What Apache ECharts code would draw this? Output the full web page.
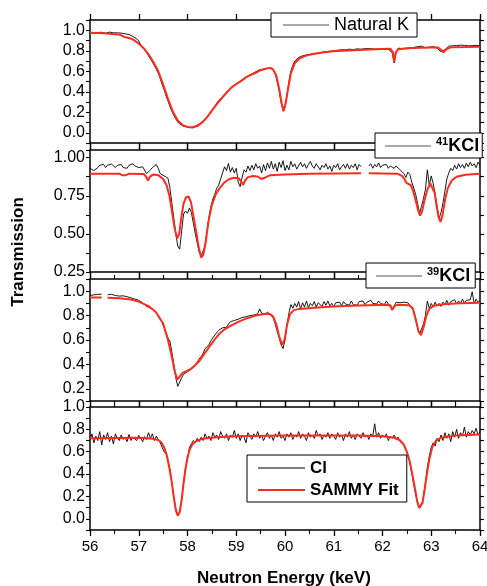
<!DOCTYPE html>
<html>
<head>
<meta charset="utf-8">
<script src="https://cdn.jsdelivr.net/npm/echarts@6/dist/echarts.min.js"></script>
<style>
  html, body { margin: 0; padding: 0; background: #fff; }
  #chart { width: 487px; height: 586px; }
</style>
</head>
<body>
<div id="chart"></div>
<script>
// measured transmission, one value every 0.04 keV from 56 keV (null = no data)
const E_START = 56;
const E_STEP = 0.04;

const naturalK = [
  0.975, 0.98, 0.975, 0.985, 0.978, 0.972, 0.98, 0.975, 0.97, 0.978, 0.982, 0.972, 0.975, 0.968, 0.975, 0.965, 0.972, 0.962, 0.965, 0.955, 0.958, 0.945, 0.94, 0.925, 0.915,
  0.895, 0.86, 0.84, 0.815, 0.785, 0.75, 0.72, 0.69, 0.655, 0.62, 0.58, 0.53, 0.47, 0.42, 0.36, 0.31, 0.255, 0.21, 0.17, 0.135, 0.105, 0.085, 0.07, 0.062, 0.056,
  0.055, 0.05, 0.053, 0.058, 0.065, 0.072, 0.085, 0.095, 0.115, 0.13, 0.155, 0.175, 0.2, 0.23, 0.255, 0.29, 0.3, 0.335, 0.35, 0.375, 0.39, 0.415, 0.43, 0.45, 0.465,
  0.478, 0.49, 0.505, 0.515, 0.53, 0.54, 0.555, 0.57, 0.575, 0.59, 0.595, 0.608, 0.615, 0.625, 0.62, 0.635, 0.628, 0.64, 0.632, 0.61, 0.57, 0.5, 0.41, 0.3, 0.215,
  0.25, 0.36, 0.5, 0.6, 0.66, 0.7, 0.715, 0.735, 0.73, 0.75, 0.742, 0.76, 0.75, 0.765, 0.758, 0.772, 0.765, 0.775, 0.76, 0.785, 0.775, 0.79, 0.78, 0.795, 0.785,
  0.8, 0.79, 0.805, 0.795, 0.81, 0.8, 0.808, 0.798, 0.815, 0.805, 0.812, 0.8, 0.818, 0.81, 0.815, 0.805, 0.82, 0.81, 0.822, 0.812, 0.818, 0.828, 0.815, 0.825, 0.818,
  0.83, 0.82, 0.825, 0.815, 0.822, 0.78, 0.68, 0.79, 0.825, 0.835, 0.822, 0.838, 0.825, 0.84, 0.828, 0.845, 0.832, 0.825, 0.84, 0.83, 0.845, 0.835, 0.828, 0.842, 0.835,
  0.83, 0.84, 0.832, 0.825, 0.81, 0.79, 0.785, 0.81, 0.828, 0.845, 0.835, 0.848, 0.838, 0.85, 0.84, 0.855, 0.845, 0.852, 0.84, 0.848, 0.838, 0.85, 0.842, 0.852, 0.845,
  0.85
];

const kcl41 = [
  0.93, 0.94, 0.915, 0.905, 0.935, 0.95, 0.94, 0.955, 0.935, 0.95, 0.94, 0.958, 0.945, 0.935, 0.95, 0.94, 0.955, 0.935, 0.945, 0.93, 0.95, 0.94, 0.96, 0.945, 0.952,
  0.935, 0.925, 0.94, 0.93, 0.895, 0.905, 0.92, 0.935, 0.94, 0.955, 0.93, 0.895, 0.885, 0.88, 0.87, 0.865, 0.8, 0.7, 0.6, 0.5, 0.42, 0.4, 0.52, 0.63, 0.65,
  0.635, 0.67, 0.64, 0.57, 0.5, 0.44, 0.38, 0.355, 0.36, 0.42, 0.52, 0.61, 0.68, 0.73, 0.76, 0.8, 0.82, 0.86, 0.9, 0.94, 0.915, 0.962, 0.905, 0.935, 0.9,
  0.93, 0.84, 0.81, 0.87, 0.92, 0.905, 0.945, 0.915, 0.95, 0.92, 0.96, 0.93, 0.945, 0.9, 0.955, 0.915, 0.965, 0.93, 0.975, 0.925, 0.96, 0.91, 0.97, 0.935, 0.98,
  0.915, 0.95, 0.92, 0.975, 0.94, 0.96, 0.925, 0.935, 0.97, 0.94, 0.96, 0.93, 0.955, 0.975, 0.945, 0.93, 0.96, 0.94, 0.92, 0.95, 0.935, 0.96, 0.925, 0.945, 0.91,
  0.95, 0.935, 0.96, 0.92, 0.94, 0.955, 0.93, 0.96, 0.925, 0.95, 0.935, 0.96, 0.92, 0.955, 0.94, null, null, null, 0.945, 0.96, 0.93, 0.955, 0.94, 0.965, 0.935,
  0.95, 0.94, 0.955, 0.93, 0.945, 0.95, 0.93, 0.945, 0.935, 0.92, 0.93, 0.895, 0.87, 0.905, 0.89, 0.84, 0.8, 0.76, 0.7, 0.635, 0.68, 0.73, 0.79, 0.92, 0.82,
  0.88, 0.83, 0.76, 0.68, 0.6, 0.64, 0.7, 0.78, 0.86, 0.9, 0.93, 0.915, 0.95, 0.925, 0.96, 0.935, 0.955, 0.93, 0.965, 0.94, 0.97, 0.945, 0.96, 0.935, 0.97,
  0.95
];

const kcl39 = [
  0.965, 0.975, 0.97, 0.985, 0.975, 0.99, 0.975, null, null, 0.97, 0.985, 0.975, 0.98, 0.965, 0.975, 0.96, 0.975, 0.962, 0.97, 0.955, 0.962, 0.945, 0.95, 0.935, 0.94,
  0.925, 0.92, 0.905, 0.895, 0.875, 0.87, 0.862, 0.85, 0.84, 0.82, 0.8, 0.77, 0.745, 0.7, 0.66, 0.615, 0.59, 0.5, 0.4, 0.29, 0.22, 0.235, 0.29, 0.32, 0.31,
  0.34, 0.335, 0.36, 0.38, 0.4, 0.42, 0.445, 0.465, 0.49, 0.53, 0.52, 0.56, 0.595, 0.6, 0.64, 0.655, 0.68, 0.67, 0.7, 0.715, 0.705, 0.73, 0.75, 0.735, 0.76,
  0.755, 0.77, 0.76, 0.785, 0.775, 0.79, 0.78, 0.8, 0.79, 0.805, 0.8, 0.815, 0.855, 0.82, 0.835, 0.81, 0.83, 0.815, 0.8, 0.78, 0.73, 0.67, 0.62, 0.56, 0.53,
  0.6, 0.72, 0.82, 0.89, 0.86, 0.9, 0.87, 0.915, 0.855, 0.905, 0.87, 0.92, 0.865, 0.9, 0.88, 0.915, 0.87, 0.905, 0.9, 0.875, 0.915, 0.885, 0.92, 0.88, 0.9,
  0.87, 0.905, 0.89, 0.91, 0.88, 0.915, 0.895, 0.91, 0.885, 0.92, 0.89, 0.905, 0.885, 0.915, 0.9, 0.92, 0.89, 0.91, 0.895, 0.925, 0.9, 0.915, 0.895, 0.92, 0.9,
  0.905, 0.89, 0.92, 0.895, 0.87, 0.85, 0.88, 0.91, 0.895, 0.905, 0.89, 0.91, 0.895, 0.905, 0.885, 0.87, 0.84, 0.78, 0.7, 0.65, 0.66, 0.73, 0.8, 0.92, 0.86,
  0.9, 0.87, 0.91, 0.88, 0.9, 0.875, 0.91, 0.89, 0.925, 0.885, 0.915, 0.9, 0.93, 0.895, 0.92, 0.9, 0.935, 0.905, 0.925, 0.91, 0.93, 0.995, 0.9, 0.935, 0.91,
  0.92
];

const chlorine = [
  0.7, 0.76, 0.68, 0.74, 0.7, 0.78, 0.66, 0.75, 0.71, 0.77, 0.69, 0.74, 0.67, 0.76, 0.72, 0.7, 0.75, 0.71, 0.73, 0.69, 0.755, 0.7, 0.73, 0.74, 0.7,
  0.745, 0.72, 0.69, 0.735, 0.71, 0.77, 0.72, 0.76, 0.7, 0.74, 0.71, 0.68, 0.64, 0.6, 0.58, 0.52, 0.44, 0.32, 0.19, 0.08, 0.03, 0.06, 0.17, 0.33, 0.46,
  0.53, 0.64, 0.67, 0.7, 0.68, 0.72, 0.69, 0.73, 0.7, 0.76, 0.72, 0.74, 0.7, 0.77, 0.73, 0.75, 0.71, 0.78, 0.74, 0.72, 0.76, 0.7, 0.75, 0.73, 0.79,
  0.72, 0.76, 0.7, 0.75, 0.73, 0.68, 0.77, 0.74, 0.71, 0.76, 0.73, 0.78, 0.72, 0.75, 0.7, 0.74, 0.77, 0.72, 0.75, 0.7, 0.76, 0.73, 0.78, 0.72, 0.74,
  0.7, 0.76, 0.73, 0.77, 0.71, 0.75, 0.73, 0.78, 0.72, 0.76, 0.74, 0.7, 0.77, 0.73, 0.75, 0.72, 0.79, 0.74, 0.76, 0.71, 0.75, 0.73, 0.77, 0.72, 0.76,
  0.74, 0.71, 0.77, 0.73, 0.75, 0.7, 0.76, 0.73, 0.78, 0.72, 0.75, 0.71, 0.76, 0.74, 0.72, 0.77, 0.73, 0.75, 0.71, 0.76, 0.74, 0.85, 0.73, 0.77, 0.72,
  0.75, 0.73, 0.76, 0.7, 0.74, 0.72, 0.75, 0.71, 0.73, 0.69, 0.7, 0.66, 0.62, 0.57, 0.5, 0.41, 0.31, 0.22, 0.14, 0.095, 0.12, 0.2, 0.32, 0.46, 0.56,
  0.64, 0.68, 0.65, 0.72, 0.69, 0.75, 0.7, 0.77, 0.72, 0.76, 0.69, 0.78, 0.73, 0.8, 0.72, 0.77, 0.74, 0.82, 0.73, 0.78, 0.75, 0.79, 0.76, 0.81, 0.75,
  0.78
];

// SAMMY fits, [energy keV, transmission]
const fitNaturalK = [
  [56.0, 0.975], [56.3, 0.97], [56.5, 0.962], [56.62, 0.955], [56.7, 0.935], [56.8, 0.925], [56.9, 0.905], [57.0, 0.87], [57.1, 0.825], [57.2, 0.765],
  [57.3, 0.69], [57.4, 0.6], [57.5, 0.47], [57.6, 0.33], [57.7, 0.205], [57.8, 0.12], [57.9, 0.075], [58.0, 0.057], [58.1, 0.052], [58.2, 0.065],
  [58.3, 0.1], [58.4, 0.15], [58.5, 0.215], [58.6, 0.28], [58.7, 0.335], [58.8, 0.39], [58.9, 0.44], [59.0, 0.475], [59.1, 0.505], [59.2, 0.54],
  [59.3, 0.565], [59.4, 0.585], [59.5, 0.61], [59.6, 0.625], [59.7, 0.633], [59.76, 0.615], [59.82, 0.56], [59.88, 0.43], [59.93, 0.29], [59.97, 0.21],
  [60.01, 0.28], [60.06, 0.42], [60.12, 0.58], [60.2, 0.68], [60.3, 0.725], [60.45, 0.755], [60.6, 0.77], [60.8, 0.785], [61.0, 0.795], [61.5, 0.808],
  [62.0, 0.818], [62.16, 0.82], [62.21, 0.79], [62.24, 0.69], [62.27, 0.78], [62.32, 0.815], [62.6, 0.827], [63.0, 0.832], [63.14, 0.832], [63.2, 0.81],
  [63.25, 0.785], [63.31, 0.815], [63.4, 0.833], [63.7, 0.836], [64.0, 0.84]
];

const fitKcl41 = [
  [56.0, 0.895], [56.6, 0.895], [56.66, 0.885], [56.7, 0.872], [56.74, 0.885], [56.8, 0.895], [57.1, 0.893], [57.15, 0.875], [57.19, 0.85], [57.23, 0.875],
  [57.3, 0.89], [57.4, 0.885], [57.5, 0.86], [57.57, 0.82], [57.63, 0.75], [57.69, 0.63], [57.74, 0.53], [57.79, 0.47], [57.83, 0.5], [57.87, 0.6],
  [57.92, 0.7], [57.97, 0.74], [58.02, 0.745], [58.07, 0.71], [58.12, 0.62], [58.18, 0.51], [58.23, 0.41], [58.28, 0.345], [58.32, 0.36], [58.37, 0.44],
  [58.43, 0.58], [58.5, 0.69], [58.58, 0.76], [58.66, 0.8], [58.75, 0.835], [58.85, 0.858], [58.95, 0.868], [59.05, 0.865], [59.1, 0.845], [59.14, 0.82],
  [59.18, 0.85], [59.24, 0.872], [59.35, 0.88], [59.45, 0.875], [59.51, 0.86], [59.55, 0.848], [59.6, 0.87], [59.7, 0.885], [60.0, 0.89], [60.5, 0.895],
  [61.56, 0.897], [61.64, null], [61.72, 0.897], [62.3, 0.895], [62.4, 0.88], [62.45, 0.86], [62.49, 0.835], [62.53, 0.845], [62.58, 0.82], [62.63, 0.78],
  [62.68, 0.72], [62.73, 0.655], [62.77, 0.62], [62.81, 0.645], [62.86, 0.72], [62.92, 0.79], [62.98, 0.83], [63.02, 0.825], [63.07, 0.77], [63.11, 0.68],
  [63.15, 0.61], [63.19, 0.578], [63.23, 0.62], [63.28, 0.72], [63.34, 0.8], [63.42, 0.85], [63.52, 0.875], [63.7, 0.888], [64.0, 0.895]
];

const fitKcl39 = [
  [56.0, 0.948], [56.24, 0.948], [56.3, null], [56.36, 0.947], [56.6, 0.943], [56.8, 0.935], [57.0, 0.915], [57.2, 0.878], [57.35, 0.83], [57.5, 0.735],
  [57.6, 0.6], [57.68, 0.46], [57.74, 0.34], [57.79, 0.275], [57.84, 0.3], [57.9, 0.33], [57.98, 0.345], [58.06, 0.36], [58.15, 0.39], [58.25, 0.43],
  [58.35, 0.49], [58.45, 0.545], [58.55, 0.6], [58.65, 0.65], [58.75, 0.685], [58.9, 0.72], [59.05, 0.75], [59.2, 0.775], [59.4, 0.8], [59.6, 0.815],
  [59.7, 0.812], [59.76, 0.79], [59.82, 0.73], [59.88, 0.63], [59.94, 0.56], [59.99, 0.6], [60.04, 0.72], [60.1, 0.81], [60.18, 0.845], [60.3, 0.855],
  [60.6, 0.865], [61.0, 0.875], [61.5, 0.882], [62.1, 0.888], [62.16, 0.885], [62.2, 0.845], [62.24, 0.875], [62.3, 0.888], [62.55, 0.885], [62.62, 0.86],
  [62.68, 0.77], [62.74, 0.67], [62.79, 0.64], [62.84, 0.7], [62.9, 0.8], [62.96, 0.855], [63.05, 0.88], [63.3, 0.895], [63.6, 0.902], [64.0, 0.905]
];

const fitChlorine = [
  [56.0, 0.72], [57.0, 0.725], [57.3, 0.715], [57.4, 0.705], [57.47, 0.68], [57.53, 0.63], [57.58, 0.56], [57.63, 0.45], [57.68, 0.32], [57.72, 0.19],
  [57.76, 0.08], [57.8, 0.028], [57.84, 0.06], [57.88, 0.17], [57.92, 0.32], [57.96, 0.45], [58.0, 0.55], [58.05, 0.625], [58.1, 0.665], [58.18, 0.695],
  [58.3, 0.715], [58.6, 0.73], [59.0, 0.738], [60.0, 0.745], [61.5, 0.745], [62.0, 0.738], [62.25, 0.725], [62.35, 0.705], [62.43, 0.67], [62.5, 0.6],
  [62.56, 0.51], [62.62, 0.38], [62.67, 0.26], [62.71, 0.16], [62.75, 0.1], [62.78, 0.097], [62.82, 0.14], [62.86, 0.25], [62.91, 0.4], [62.96, 0.53],
  [63.02, 0.64], [63.1, 0.7], [63.2, 0.725], [63.5, 0.745], [64.0, 0.755]
];

const sampleNames = ["Natural K", "41KCl", "39KCl", "Cl"];
const fitName = "SAMMY Fit";
const xTicks = [56, 57, 58, 59, 60, 61, 62, 63, 64];

const FONT = "Liberation Sans, Arial, Helvetica, sans-serif";
const RED = "#ff2b1c";

// 把逐点数据放到能量网格上
function onGrid(values) {
    return values.map((v, i) => [Math.round((E_START + i * E_STEP) * 100) / 100, v == null ? "-" : v]);
}

function fitPoints(points) {
    return points.map(([e, t]) => [e, t == null ? "-" : t]);
}

const panels = [
    { top: 20, height: 123, min: -0.1, max: 1.1, step: 0.1, halfTicks: false, data: naturalK, fit: fitNaturalK },
    { top: 150, height: 122, min: 0.25, max: 1.05, step: 0.125, halfTicks: false, data: kcl41, fit: fitKcl41 },
    { top: 279, height: 122, min: 0.1, max: 1.1, step: 0.1, halfTicks: true, data: kcl39, fit: fitKcl39 },
    { top: 407, height: 123, min: -0.1, max: 1.0, step: 0.1, halfTicks: true, data: chlorine, fit: fitChlorine }
];

function tenthsLabel(v) {
    const k = Math.round(v * 10);
    return Math.abs(v * 10 - k) < 1e-6 && k % 2 === 0 ? (k / 10).toFixed(1) : "";
}

function quarterLabel(v) {
    const k = Math.round(v * 4);
    return Math.abs(v * 4 - k) < 1e-6 ? (k / 4).toFixed(2) : "";
}

const axisLine = { show: true, onZero: false, lineStyle: { color: "#000", width: 1.5 } };

const grid = [];
const xAxis = [];
const yAxis = [];
const series = [];

panels.forEach((p, i) => {
    grid.push({ left: 90, right: 7, top: p.top, height: p.height, containLabel: false, outerBoundsMode: "none" });
    const last = i === panels.length - 1;
    ["bottom", "top"].forEach((pos) => {
        xAxis.push({
            type: "value", gridIndex: i, position: pos, min: xTicks[0], max: xTicks[xTicks.length - 1], interval: 1,
            axisLine,
            axisTick: { show: true, length: 6, lineStyle: { color: "#000", width: 1.3 } },
            minorTick: { show: p.halfTicks, splitNumber: 2, length: 4, lineStyle: { color: "#000", width: 1.1 } },
            axisLabel: { show: last && pos === "bottom", margin: 9, color: "#000", fontSize: 15, fontFamily: FONT },
            splitLine: { show: false }
        });
    });
    ["left", "right"].forEach((pos) => {
        yAxis.push({
            type: "value", gridIndex: i, position: pos, min: p.min, max: p.max, interval: p.step,
            axisLine,
            axisTick: { show: true, length: 4, lineStyle: { color: "#000", width: 1.1 } },
            axisLabel: {
                show: pos === "left", margin: 5, color: "#000", fontSize: 16, fontFamily: FONT,
                formatter: i === 1 ? quarterLabel : tenthsLabel
            },
            splitLine: { show: false }
        });
    });
    series.push({
        type: "line", name: sampleNames[i], xAxisIndex: 2 * i, yAxisIndex: 2 * i,
        data: onGrid(p.data), symbol: "none", connectNulls: false, z: 2,
        itemStyle: { color: "#000" }, lineStyle: { color: "#000", width: 0.9 }
    });
    series.push({
        type: "line", name: fitName, xAxisIndex: 2 * i, yAxisIndex: 2 * i,
        data: fitPoints(p.fit), symbol: "none", connectNulls: false, z: 3,
        itemStyle: { color: RED }, lineStyle: { color: RED, width: 2 }
    });
});

// thin bar icons stand in for the legend line samples
const thinIcon = "path://M0,0H46V1H0Z";
const thickIcon = "path://M0,0H46V2.2H0Z";

const legendBase = {
    orient: "horizontal", backgroundColor: "#fff", borderColor: "#000", borderWidth: 1,
    itemWidth: 46, itemHeight: 14, itemGap: 4, selectedMode: false, borderRadius: 0,
    symbolKeepAspect: true, z: 10
};

const isoRich = {
    s: { fontSize: 11, fontWeight: "bold", fontFamily: FONT, color: "#000", verticalAlign: "top", lineHeight: 12 },
    b: { fontSize: 18, fontWeight: "bold", fontFamily: FONT, color: "#000", lineHeight: 20 }
};

function isoLabel(name) {
    return "{s|" + name.slice(0, 2) + "}{b|" + name.slice(2) + "}";
}

function grayItem(name) {
    return { name, icon: thinIcon, itemStyle: { color: "#555" } };
}

const legend = [
    Object.assign({}, legendBase, {
        data: [grayItem(sampleNames[0])], left: 271, top: 13, padding: [3, 8, 3, 12],
        textStyle: { fontSize: 18, fontFamily: FONT, color: "#000" }
    }),
    Object.assign({}, legendBase, {
        data: [grayItem(sampleNames[1])], left: 375, top: 133, padding: [3, 3, 3, 10],
        formatter: isoLabel, textStyle: { rich: isoRich }
    }),
    Object.assign({}, legendBase, {
        data: [grayItem(sampleNames[2])], left: 366, top: 263, padding: [3, 5, 3, 10],
        formatter: isoLabel, textStyle: { rich: isoRich }
    }),
    Object.assign({}, legendBase, {
        data: [
            { name: sampleNames[3], icon: thinIcon, itemStyle: { color: "#000" } },
            { name: fitName, icon: thickIcon, itemStyle: { color: RED } }
        ],
        orient: "vertical", left: 247, top: 455, padding: [4, 8, 3, 11], itemWidth: 47,
        textStyle: { fontSize: 17, fontWeight: "bold", fontFamily: FONT, color: "#000", lineHeight: 18 }
    })
];

const chart = echarts.init(document.getElementById("chart"), null, { renderer: "canvas" });
chart.setOption({
    animation: false,
    backgroundColor: "#fff",
    grid, xAxis, yAxis, series, legend,
    graphic: [
        {
            type: "text", left: 197, top: 570, z: 10,
            style: { text: "Neutron Energy (keV)", fontSize: 17, fontWeight: "bold", fontFamily: FONT, fill: "#000" }
        },
        {
            type: "text", x: 10, y: 252, rotation: Math.PI / 2, z: 10,
            style: { text: "Transmission", fontSize: 17, fontWeight: "bold", fontFamily: FONT, fill: "#000", align: "center", verticalAlign: "top" }
        }
    ]
});
</script>
</body>
</html>
